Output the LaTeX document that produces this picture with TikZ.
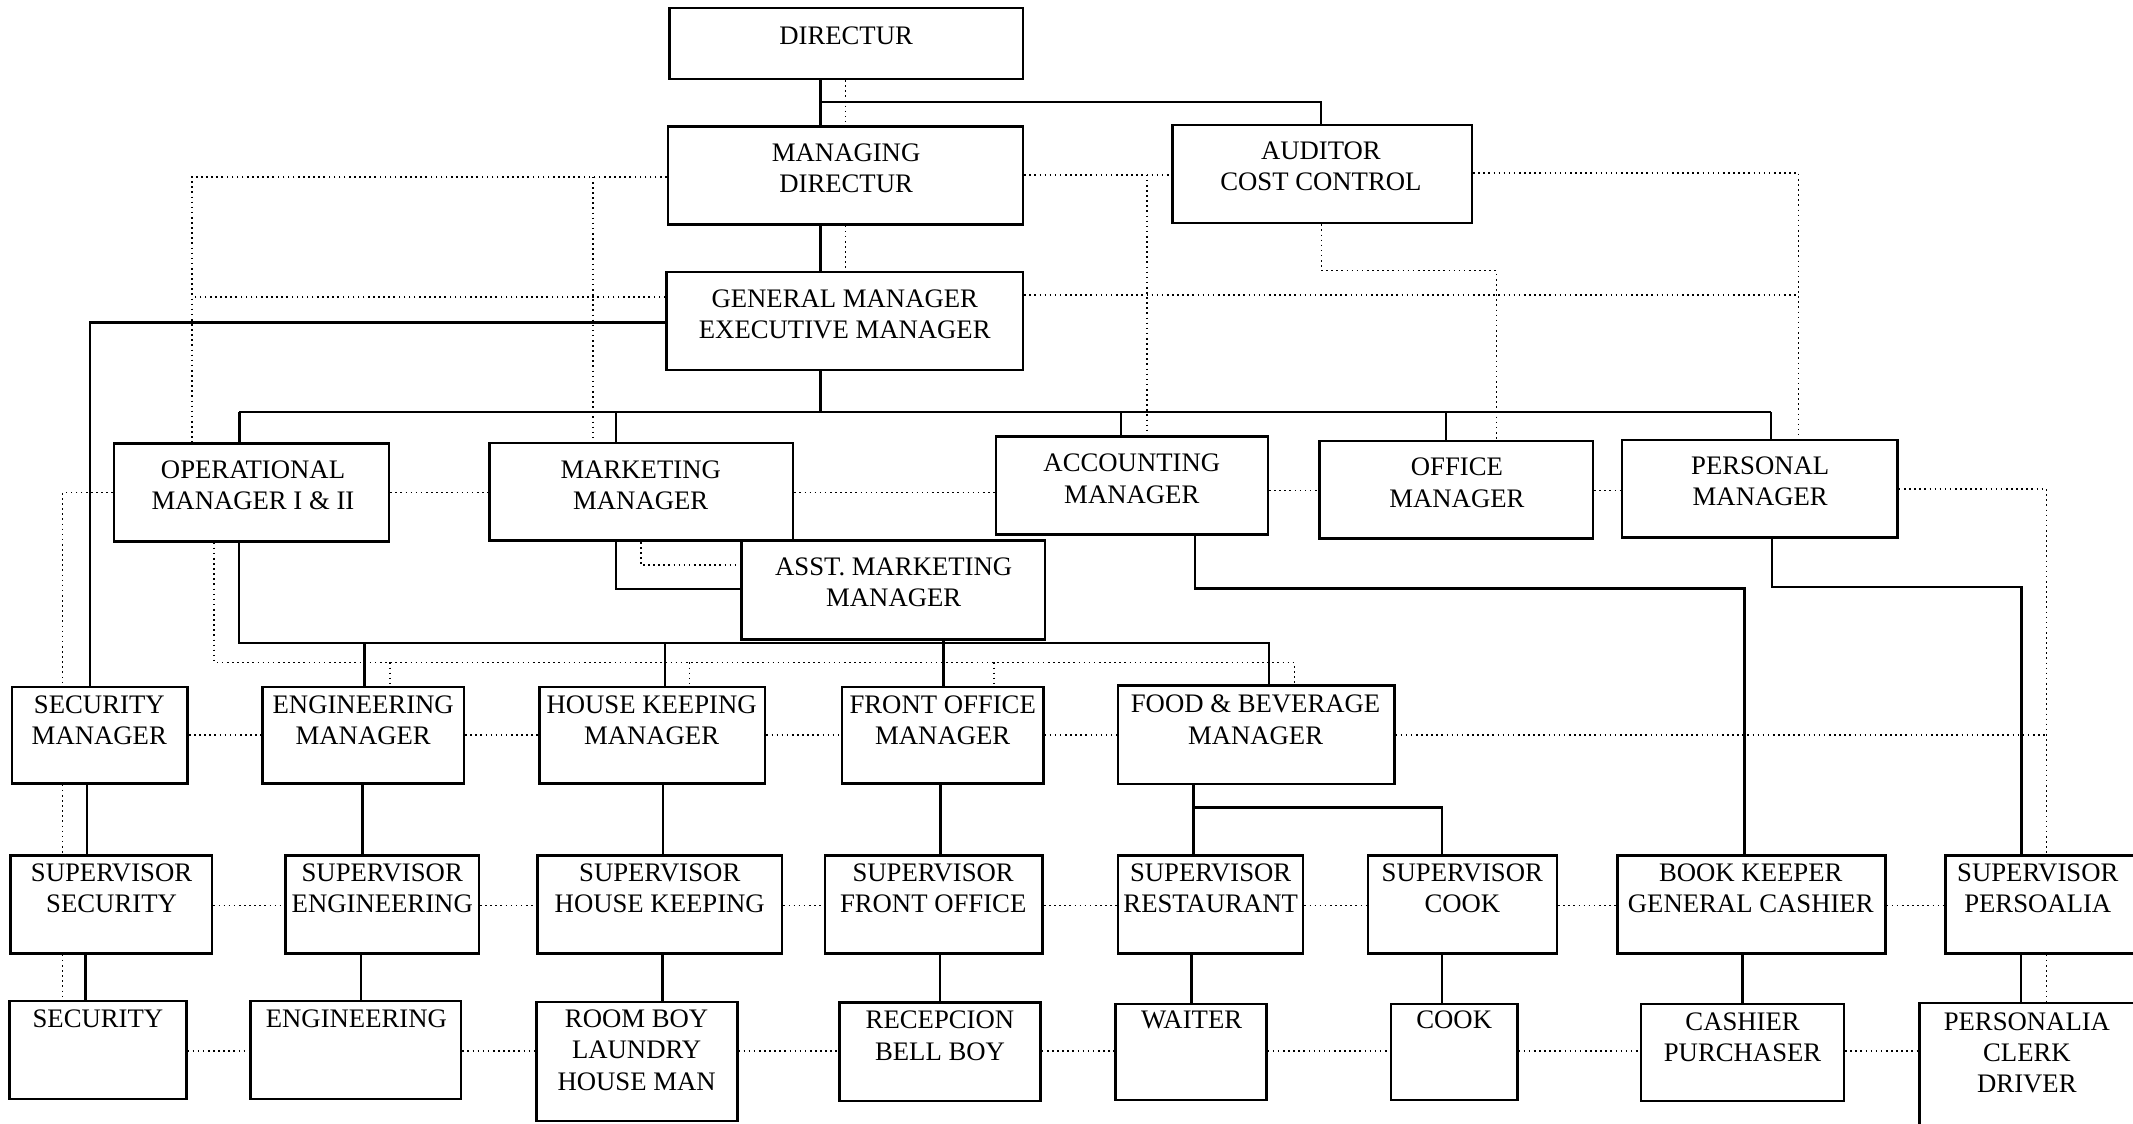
\documentclass[tikz,border=0pt]{standalone}
\usepackage{fontspec}
\setmainfont{Liberation Serif}
\usetikzlibrary{fit}
\newcommand\orgbox[8]{%
  \node[box, fit={(#2,#3) (#4,#5)}] (#1) {};
  \node[txt] (#1t) at (#6,#7) {#8};}
\begin{document}
\begin{tikzpicture}[x=0.013603cm, y=-0.013603cm,
  box/.style={draw, line width=0.7pt, inner sep=0pt},
  txt/.style={align=center, inner sep=0pt, font=\fontsize{7.6}{8.9}\selectfont},
  conn/.style={line width=0.7pt},
  dot/.style={line width=0.45pt, densely dotted}]
\useasboundingbox (0,0) rectangle (1568,826);
\clip (0,0) rectangle (1568,826);
% ---------- boxes ----------
\orgbox{dir}{492}{6}{752}{58}{622}{26}{DIRECTUR}
\orgbox{md}{491}{93}{752}{165}{622}{123.5}{MANAGING\\DIRECTUR}
\orgbox{aud}{862}{92}{1082}{164}{971}{122}{AUDITOR\\COST CONTROL}
\orgbox{gm}{490}{200}{752}{272}{621}{231}{GENERAL MANAGER\\EXECUTIVE MANAGER}
\orgbox{oper}{84}{326}{286}{398}{186}{356.5}{OPERATIONAL\\MANAGER I \& II}
\orgbox{mkt}{360}{325.5}{583}{397.5}{471}{356.5}{MARKETING\\MANAGER}
\orgbox{acct}{732}{321}{932}{393}{832}{352}{ACCOUNTING\\MANAGER}
\orgbox{office}{970}{324}{1171}{396}{1071}{355}{OFFICE\\MANAGER}
\orgbox{pers}{1192.5}{323.5}{1395}{395}{1294}{354}{PERSONAL\\MANAGER}
\orgbox{asst}{545}{397.5}{768}{470}{657}{428}{ASST. MARKETING\\MANAGER}
\orgbox{secm}{9}{505}{138}{576}{73}{529.5}{SECURITY\\MANAGER}
\orgbox{engm}{193}{505}{341}{576}{267}{529.5}{ENGINEERING\\MANAGER}
\orgbox{hkm}{396.5}{505}{562.5}{576}{479}{529.5}{HOUSE KEEPING\\MANAGER}
\orgbox{fom}{619}{505}{767}{576}{693}{529.5}{FRONT OFFICE\\MANAGER}
\orgbox{fbm}{822}{504}{1025}{576.5}{923}{529}{FOOD \& BEVERAGE\\MANAGER}
\orgbox{sups}{7.7}{629}{156}{701}{82}{653}{SUPERVISOR\\SECURITY}
\orgbox{supe}{210}{629}{352}{701}{281}{653}{SUPERVISOR\\ENGINEERING}
\orgbox{suph}{395}{629}{575}{701}{485}{653}{SUPERVISOR\\HOUSE KEEPING}
\orgbox{supf}{606.5}{629}{766.5}{701}{686}{653}{SUPERVISOR\\FRONT OFFICE}
\orgbox{supr}{822}{629}{958}{701}{890}{653}{SUPERVISOR\\RESTAURANT}
\orgbox{supc}{1005.5}{629}{1144.5}{701}{1075}{653}{SUPERVISOR\\COOK}
\orgbox{bk}{1189}{629}{1386}{701}{1287}{653}{BOOK KEEPER\\GENERAL CASHIER}
\orgbox{supp}{1430}{629}{1580}{701}{1498}{653}{SUPERVISOR\\PERSOALIA}
\orgbox{sec}{7}{736}{137}{808}{72}{749}{SECURITY}
\orgbox{eng}{184}{736}{339}{808}{262}{749}{ENGINEERING}
\orgbox{room}{394.5}{736.5}{542}{824}{468}{772}{ROOM BOY\\LAUNDRY\\HOUSE MAN}
\orgbox{rec}{617}{737}{765}{809.5}{691}{761.5}{RECEPCION\\BELL BOY}
\orgbox{waiter}{820}{738}{931}{808.5}{876}{750}{WAITER}
\orgbox{cook}{1022.5}{738}{1115.5}{808.5}{1069}{750}{COOK}
\orgbox{cash}{1206.5}{738}{1355.5}{809.5}{1281}{762.5}{CASHIER\\PURCHASER}
\orgbox{persc}{1411}{737.5}{1580}{840}{1490}{774}{PERSONALIA\\CLERK\\DRIVER}
% ---------- helper coordinates ----------
\coordinate (cA) at (603,75);
\coordinate (cB) at (971,75);
\coordinate (cC) at (66,237);
\coordinate (b1C) at (603,303);
\coordinate (b1L) at (176,303);
\coordinate (b1m) at (453,303);
\coordinate (b1a) at (824,303);
\coordinate (b1o) at (1063,303);
\coordinate (b1R) at (1302,303);
\coordinate (cD) at (453,433);
\coordinate (b2L) at (175.5,472.5);
\coordinate (b2e) at (268,472.5);
\coordinate (b2h) at (489,472.5);
\coordinate (b2R) at (933,472.5);
\coordinate (cFO) at (693.5,0);
\coordinate (xS) at (64,0);
\coordinate (xE) at (266.5,0);
\coordinate (xH) at (487.5,0);
\coordinate (xF) at (691.5,0);
\coordinate (fb1) at (877.5,593.5);
\coordinate (fb2) at (1060,593.5);
\coordinate (ac1) at (878.5,432.5);
\coordinate (ac2) at (1282.5,432.5);
\coordinate (pe1) at (1302.5,431.5);
\coordinate (pe2) at (1486,431.5);
% ---------- solid connectors ----------
\draw[conn] (dir.south -| cA) -- (md.north -| cA);
\draw[conn] (cA) -- (cB) -- (aud.north -| cB);
\draw[conn] (md.south -| cA) -- (gm.north -| cA);
\draw[conn] (gm.west |- cC) -- (cC) -- (secm.north -| cC);
\draw[conn] (gm.south -| b1C) -- (b1C);
\draw[conn] (b1L) -- (b1R);
\draw[conn] (b1L) -- (oper.north -| b1L);
\draw[conn] (b1m) -- (mkt.north -| b1m);
\draw[conn] (b1a) -- (acct.north -| b1a);
\draw[conn] (b1o) -- (office.north -| b1o);
\draw[conn] (b1R) -- (pers.north -| b1R);
\draw[conn] (mkt.south -| cD) -- (cD) -- (asst.west |- cD);
\draw[conn] (oper.south -| b2L) -- (b2L) -- (b2R) -- (fbm.north -| b2R);
\draw[conn] (b2e) -- (engm.north -| b2e);
\draw[conn] (b2h) -- (hkm.north -| b2h);
\draw[conn] (asst.south -| cFO) -- (fom.north -| cFO);
\draw[conn] (secm.south -| xS) -- (sups.north -| xS);
\draw[conn] (engm.south -| xE) -- (supe.north -| xE);
\draw[conn] (hkm.south -| xH) -- (suph.north -| xH);
\draw[conn] (fom.south -| xF) -- (supf.north -| xF);
\draw[conn] (fbm.south -| fb1) -- (supr.north -| fb1);
\draw[conn] (fb1) -- (fb2) -- (supc.north -| fb2);
\draw[conn] (acct.south -| ac1) -- (ac1) -- (ac2) -- (bk.north -| ac2);
\draw[conn] (pers.south -| pe1) -- (pe1) -- (pe2) -- (supp.north -| pe2);
\coordinate (zS) at (63,0);
\coordinate (zE) at (265.5,0);
\coordinate (zH) at (487,0);
\coordinate (zF) at (691,0);
\coordinate (zR) at (876,0);
\coordinate (zC) at (1060,0);
\coordinate (zB) at (1281,0);
\coordinate (zP) at (1485.5,0);
\draw[conn] (sups.south -| zS) -- (sec.north -| zS);
\draw[conn] (supe.south -| zE) -- (eng.north -| zE);
\draw[conn] (suph.south -| zH) -- (room.north -| zH);
\draw[conn] (supf.south -| zF) -- (rec.north -| zF);
\draw[conn] (supr.south -| zR) -- (waiter.north -| zR);
\draw[conn] (supc.south -| zC) -- (cook.north -| zC);
\draw[conn] (bk.south -| zB) -- (cash.north -| zB);
\draw[conn] (supp.south -| zP) -- (persc.north -| zP);
% ---------- dotted connectors ----------
\coordinate (dX) at (621.5,0);
\draw[dot] (dir.south -| dX) -- (md.north -| dX);
\draw[dot] (md.south -| dX) -- (gm.north -| dX);
\coordinate (dL1) at (141,130);
\coordinate (dL2) at (436,130);
\coordinate (dL3) at (141,218.5);
\draw[dot] (md.west |- dL1) -- (dL1) -- (oper.north -| dL1);
\draw[dot] (dL2) -- (mkt.north -| dL2);
\draw[dot] (gm.west |- dL3) -- (dL3);
\coordinate (dR1) at (843,128.5);
\coordinate (dR2) at (1322,127);
\coordinate (dR3) at (971.5,199);
\coordinate (dR4) at (1100,199);
\coordinate (dR5) at (1322,217);
\draw[dot] (md.east |- dR1) -- (aud.west |- dR1);
\draw[dot] (dR1) -- (acct.north -| dR1);
\draw[dot] (aud.east |- dR2) -- (dR2) -- (pers.north -| dR2);
\draw[dot] (aud.south -| dR3) -- (dR3) -- (dR4) -- (office.north -| dR4);
\draw[dot] (gm.east |- dR5) -- (dR5);
\coordinate (yA) at (0,362);
\coordinate (yB) at (0,360.5);
\coordinate (dS1) at (46,362);
\draw[dot] (oper.west |- dS1) -- (dS1) -- (secm.north -| dS1);
\draw[dot] (secm.south -| dS1) -- (sups.north -| dS1);
\draw[dot] (sups.south -| dS1) -- (sec.north -| dS1);
\draw[dot] (oper.east |- yA) -- (mkt.west |- yA);
\draw[dot] (mkt.east |- yA) -- (acct.west |- yA);
\draw[dot] (acct.east |- yB) -- (office.west |- yB);
\draw[dot] (office.east |- yB) -- (pers.west |- yB);
\coordinate (dP1) at (1504.5,359.5);
\draw[dot] (pers.east |- dP1) -- (dP1) -- (supp.north -| dP1);
\draw[dot] (supp.south -| dP1) -- (persc.north -| dP1);
\coordinate (dM1) at (471,415.5);
\draw[dot] (mkt.south -| dM1) -- (dM1) -- (asst.west |- dM1);
\coordinate (dO1) at (157.5,487);
\coordinate (dO2) at (951.5,487);
\coordinate (dOe) at (286.5,487);
\coordinate (dOh) at (507,487);
\coordinate (dOf) at (730.5,487);
\draw[dot] (oper.south -| dO1) -- (dO1) -- (dO2) -- (fbm.north -| dO2);
\draw[dot] (dOe) -- (engm.north -| dOe);
\draw[dot] (dOh) -- (hkm.north -| dOh);
\draw[dot] (dOf) -- (fom.north -| dOf);
\coordinate (yM) at (0,540.5);
\coordinate (dP2) at (1504.5,540.5);
\draw[dot] (secm.east |- yM) -- (engm.west |- yM);
\draw[dot] (engm.east |- yM) -- (hkm.west |- yM);
\draw[dot] (hkm.east |- yM) -- (fom.west |- yM);
\draw[dot] (fom.east |- yM) -- (fbm.west |- yM);
\draw[dot] (fbm.east |- yM) -- (dP2);
\coordinate (yS) at (0,665.5);
\draw[dot] (sups.east |- yS) -- (supe.west |- yS);
\draw[dot] (supe.east |- yS) -- (suph.west |- yS);
\draw[dot] (suph.east |- yS) -- (supf.west |- yS);
\draw[dot] (supf.east |- yS) -- (supr.west |- yS);
\draw[dot] (supr.east |- yS) -- (supc.west |- yS);
\draw[dot] (supc.east |- yS) -- (bk.west |- yS);
\draw[dot] (bk.east |- yS) -- (supp.west |- yS);
\coordinate (yW) at (0,772.5);
\draw[dot] (sec.east |- yW) -- (eng.west |- yW);
\draw[dot] (eng.east |- yW) -- (room.west |- yW);
\draw[dot] (room.east |- yW) -- (rec.west |- yW);
\draw[dot] (rec.east |- yW) -- (waiter.west |- yW);
\draw[dot] (waiter.east |- yW) -- (cook.west |- yW);
\draw[dot] (cook.east |- yW) -- (cash.west |- yW);
\draw[dot] (cash.east |- yW) -- (persc.west |- yW);
\end{tikzpicture}
\end{document}
